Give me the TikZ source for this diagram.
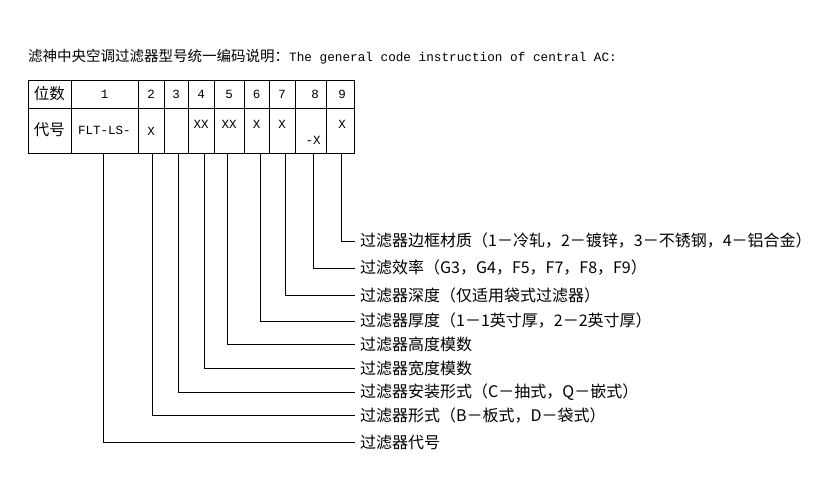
\documentclass[tikz,border=0pt]{standalone}
\usepackage{fontspec}
\setmainfont{Liberation Mono}
\newfontfamily\cjk{Noto Sans CJK SC}
\begin{document}
\begin{tikzpicture}[x=1pt,y=-1pt,
 lbl/.style={anchor=west,inner sep=0pt,font=\fontsize{16}{18}\selectfont},
 cell/.style={inner sep=0pt,font=\fontsize{12.5}{14}\selectfont},
 ln/.style={line width=0.6pt}]
\useasboundingbox (0,0) rectangle (825,491);
\node[lbl,font=\fontsize{12.7}{15}\selectfont] (title) at (28,57) {{\cjk\fontsize{14.5}{16}\selectfont 滤神中央空调过滤器型号统一编码说明：}The general code instruction of central AC:};
% table
\draw[ln] (28,80) rectangle (354,153);
\draw[ln] (28,108) -- (354,108);
\foreach \x in {71,138,164,188,214,244,269,295,326} \draw[ln] (\x,80) -- (\x,153);
\node[cell,font=\fontsize{15.5}{17}\selectfont] (h0) at (49.5,94) {\cjk 位数};
\node[cell,font=\fontsize{15.5}{17}\selectfont] (c0) at (49.5,130) {\cjk 代号};
\node[cell] (h1) at (104.5,94) {1};
\node[cell] (c1) at (104.5,130) {FLT-LS-};
\node[cell] (h2) at (151,94) {2};
\node[cell] (c2) at (151,131) {X};
\node[cell] (h3) at (176,94) {3};
\node[cell] (h4) at (201,94) {4};
\node[cell] (c4) at (201,124) {XX};
\node[cell] (h5) at (229,94) {5};
\node[cell] (c5) at (229,124) {XX};
\node[cell] (h6) at (256.5,94) {6};
\node[cell] (c6) at (256.5,124) {X};
\node[cell] (h7) at (282,94) {7};
\node[cell] (c7) at (282,124) {X};
\node[cell] (h8) at (315,94) {8};
\node[cell] (c8) at (313,140) {-X};
\node[cell] (h9) at (342,94) {9};
\node[cell] (c9) at (342,124) {X};
% labels
\foreach \n/\x/\y/\t in {
 9/341/241/{过滤器边框材质（1－冷轧，2－镀锌，3－不锈钢，4－铝合金）},
 8/313/268/{过滤效率（G3，G4，F5，F7，F8，F9）},
 7/285/295/{过滤器深度（仅适用袋式过滤器）},
 6/260/321/{过滤器厚度（1－1英寸厚，2－2英寸厚）},
 5/227/344/{过滤器高度模数},
 4/204/368/{过滤器宽度模数},
 3/178/392/{过滤器安装形式（C－抽式，Q－嵌式）},
 2/152/415/{过滤器形式（B－板式，D－袋式）},
 1/103/442/{过滤器代号}} {
 \node[lbl] (l\n) at (360,\y) {\cjk\t};
 \coordinate (t\n) at (\x,153);
 \draw[ln] (t\n) |- ([xshift=-5pt]l\n.west);
}
\end{tikzpicture}
\end{document}
